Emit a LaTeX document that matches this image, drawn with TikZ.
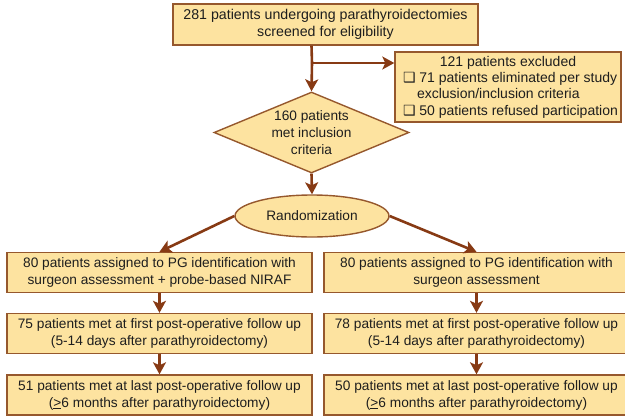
\documentclass[tikz,border=0pt]{standalone}
\usepackage{fontspec}
\setmainfont{Liberation Sans}
\newfontfamily\symfont{DejaVu Sans}
\usetikzlibrary{shapes.geometric,arrows.meta}
\definecolor{boxfill}{RGB}{253,227,160}
\definecolor{boxdraw}{RGB}{150,88,45}
\definecolor{arrowc}{RGB}{135,58,20}
\definecolor{txt}{RGB}{30,30,30}
\newcommand{\sqbul}{{\symfont\fontsize{14}{16}\selectfont ❑}}
\begin{document}
\begin{tikzpicture}[x=1pt,y=-1pt,
  every node/.style={text=txt,font=\fontsize{13.7}{17}\selectfont},
  flowbox/.style={draw=boxdraw,fill=boxfill,line width=1.4pt,rectangle,
    minimum width=305pt,minimum height=40pt,inner sep=0pt,align=center},
  conn/.style={draw=arrowc,line width=2.6pt,
    -{Stealth[length=12pt,width=13pt,inset=3pt]}},
  plain/.style={draw=arrowc,line width=2.6pt}]
\useasboundingbox (0,0) rectangle (625,416);
\begin{scope}
\clip (0,0) rectangle (625,416);
\node[flowbox,minimum height=41pt,font=\fontsize{14.2}{17}\selectfont] (top) at (325.5,24.5)
  {281 patients undergoing parathyroidectomies\\screened for eligibility};
\node[flowbox,minimum width=226pt,minimum height=70pt,font=\fontsize{14}{16.3}\selectfont] (excl) at (508,87)
  {121 patients excluded\\
   \makebox[210pt][l]{\sqbul\ 71 patients eliminated per study}\\
   \makebox[210pt][l]{\hspace*{14pt}exclusion/inclusion criteria}\\
   \makebox[210pt][l]{\sqbul\ 50 patients refused participation}};
\node[shape=diamond,draw=boxdraw,fill=boxfill,line width=1.4pt,aspect=2.4,
  inner sep=0pt,minimum width=195pt,minimum height=81pt,align=center] (dia) at (311.5,132.5)
  {160 patients\\met inclusion\\criteria};
\node[shape=ellipse,draw=boxdraw,fill=boxfill,line width=1.4pt,inner sep=0pt,
  minimum width=154pt,minimum height=42pt] (rand) at (312,216) {Randomization};
\node[flowbox] (L1) at (159.5,272.5)
  {80 patients assigned to PG identification with\\surgeon assessment + probe-based NIRAF};
\node[flowbox] (L2) at (159.5,333.5)
  {75 patients met at first post-operative follow up\\(5-14 days after parathyroidectomy)};
\node[flowbox] (L3) at (159.5,395)
  {51 patients met at last post-operative follow up\\(\underline{>}6 months after parathyroidectomy)};
\node[flowbox] (R1) at (476.5,272.5)
  {80 patients assigned to PG identification with\\surgeon assessment};
\node[flowbox] (R2) at (476.5,333.5)
  {78 patients met at first post-operative follow up\\(5-14 days after parathyroidectomy)};
\node[flowbox] (R3) at (476.5,395)
  {50 patients met at last post-operative follow up\\(\underline{>}6 months after parathyroidectomy)};
\coordinate (br) at (312,63);
\draw[plain] (top.south -| dia.north) -- (br);
\draw[conn] (br) -- (dia.north);
\draw[conn] (br) -- (br -| excl.west);
\draw[conn] (dia.south) -- (rand.north);
\draw[conn] (rand.west) -- (L1.north);
\draw[conn] (rand.east) -- (R1.north);
\draw[conn] (L1.south) -- (L2.north);
\draw[conn] (L2.south) -- (L3.north);
\draw[conn] (R1.south) -- (R2.north);
\draw[conn] (R2.south) -- (R3.north);
\end{scope}
\end{tikzpicture}
\end{document}
